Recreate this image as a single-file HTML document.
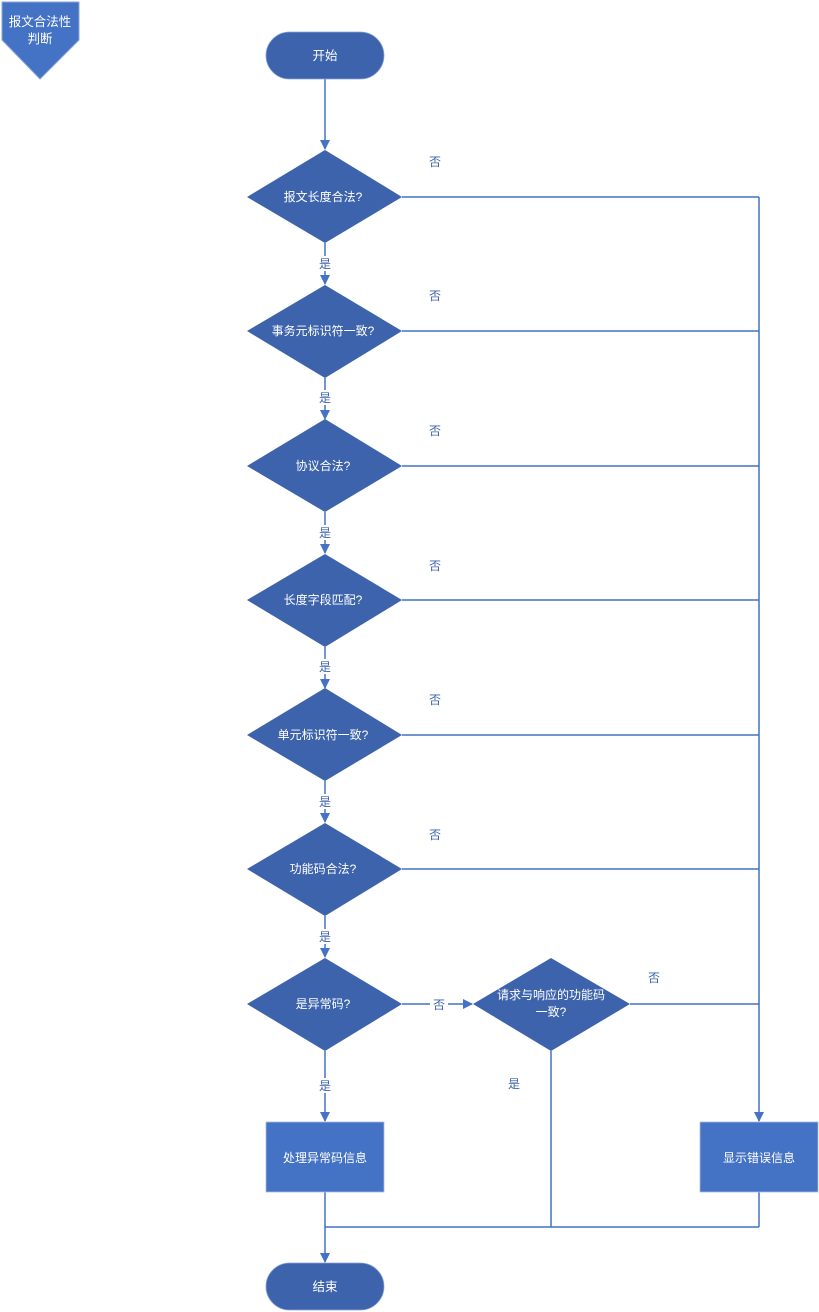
<!DOCTYPE html>
<html><head><meta charset="utf-8"><style>
html,body{margin:0;padding:0;background:#fff;}
svg{display:block;font-family:"Liberation Sans","Noto Sans CJK SC",sans-serif;}
</style></head><body>
<svg width="819" height="1312" viewBox="0 0 819 1312" xmlns="http://www.w3.org/2000/svg">
<defs><marker id="a" markerWidth="10" markerHeight="10" refX="9" refY="5" orient="auto" markerUnits="userSpaceOnUse"><path d="M0,0 L10,5 L0,10 z" fill="#4472c4"/></marker></defs>
<polygon points="2,2 79,2 79,40 40,79 2,40" fill="#4472c4" stroke="#8aa5d8" stroke-width="1"/>
<text x="40" y="26" fill="#fff" font-size="12.5" text-anchor="middle">报文合法性</text>
<text x="40" y="43" fill="#fff" font-size="12.5" text-anchor="middle">判断</text>
<g stroke="#4472c4" stroke-width="1.5" fill="none">
<line x1="325" y1="79" x2="325" y2="149" marker-end="url(#a)"/>
<line x1="325" y1="243" x2="325" y2="284" marker-end="url(#a)"/>
<line x1="325" y1="378" x2="325" y2="419" marker-end="url(#a)"/>
<line x1="325" y1="512" x2="325" y2="553" marker-end="url(#a)"/>
<line x1="325" y1="647" x2="325" y2="688" marker-end="url(#a)"/>
<line x1="325" y1="781" x2="325" y2="822" marker-end="url(#a)"/>
<line x1="325" y1="916" x2="325" y2="957" marker-end="url(#a)"/>
<line x1="325" y1="1051" x2="325" y2="1121" marker-end="url(#a)"/>
<line x1="402" y1="197" x2="759" y2="197"/>
<line x1="402" y1="331" x2="759" y2="331"/>
<line x1="402" y1="466" x2="759" y2="466"/>
<line x1="402" y1="600" x2="759" y2="600"/>
<line x1="402" y1="735" x2="759" y2="735"/>
<line x1="402" y1="869" x2="759" y2="869"/>
<line x1="630" y1="1004" x2="759" y2="1004"/>
<line x1="759" y1="197" x2="759" y2="1121" marker-end="url(#a)"/>
<line x1="402" y1="1004" x2="472" y2="1004" marker-end="url(#a)"/>
<line x1="551" y1="1051" x2="551" y2="1227"/>
<line x1="325" y1="1192" x2="325" y2="1262" marker-end="url(#a)"/>
<line x1="759" y1="1192" x2="759" y2="1227"/>
<line x1="325" y1="1227" x2="759" y2="1227"/>
</g>
<rect x="266" y="32" width="118" height="47" rx="23.5" fill="#3c63ac" stroke="#8aa5d8" stroke-width="0.8"/>
<text x="325" y="60" fill="#fff" font-size="12.5" text-anchor="middle">开始</text>
<rect x="266" y="1263" width="118" height="47" rx="23.5" fill="#3c63ac" stroke="#8aa5d8" stroke-width="0.8"/>
<text x="325" y="1291" fill="#fff" font-size="12.5" text-anchor="middle">结束</text>
<g fill="#3c63ac">
<polygon points="325,150 402,197 325,243 247,197"/>
<polygon points="325,285 402,331 325,378 247,331"/>
<polygon points="325,419 402,466 325,512 247,466"/>
<polygon points="325,554 402,600 325,647 247,600"/>
<polygon points="325,688 402,735 325,781 247,735"/>
<polygon points="325,823 402,869 325,916 247,869"/>
<polygon points="325,958 402,1004 325,1051 247,1004"/>
<polygon points="551,958 630,1004 551,1051 473,1004"/>
</g>
<rect x="266" y="1122" width="118" height="70" fill="#4472c4" stroke="#a8bce0" stroke-width="0.8"/>
<rect x="700" y="1122" width="118" height="70" fill="#4472c4" stroke="#a8bce0" stroke-width="0.8"/>
<g fill="#fff" font-size="12" text-anchor="middle">
<text x="323" y="201">报文长度合法?</text>
<text x="323" y="335">事务元标识符一致?</text>
<text x="323" y="470">协议合法?</text>
<text x="323" y="604">长度字段匹配?</text>
<text x="323" y="739">单元标识符一致?</text>
<text x="323" y="873">功能码合法?</text>
<text x="323" y="1008">是异常码?</text>
<text x="551" y="999">请求与响应的功能码</text>
<text x="551" y="1016">一致?</text>
<text x="325" y="1162">处理异常码信息</text>
<text x="759" y="1162">显示错误信息</text>
</g>
<g font-size="12" fill="#3c63ac" text-anchor="middle">
<rect x="316" y="256" width="18" height="15" fill="#fff"/><text x="325" y="268">是</text>
<rect x="316" y="390" width="18" height="15" fill="#fff"/><text x="325" y="402">是</text>
<rect x="316" y="525" width="18" height="15" fill="#fff"/><text x="325" y="537">是</text>
<rect x="316" y="659" width="18" height="15" fill="#fff"/><text x="325" y="671">是</text>
<rect x="316" y="794" width="18" height="15" fill="#fff"/><text x="325" y="806">是</text>
<rect x="316" y="929" width="18" height="15" fill="#fff"/><text x="325" y="941">是</text>
<rect x="316" y="1078" width="18" height="15" fill="#fff"/><text x="325" y="1090">是</text>
<text x="514" y="1088">是</text>
<text x="435" y="166">否</text>
<text x="435" y="300">否</text>
<text x="435" y="435">否</text>
<text x="435" y="570">否</text>
<text x="435" y="704">否</text>
<text x="435" y="839">否</text>
<text x="654" y="982">否</text>
<rect x="430" y="997" width="18" height="15" fill="#fff"/><text x="439" y="1009">否</text>
</g>
</svg>
</body></html>
